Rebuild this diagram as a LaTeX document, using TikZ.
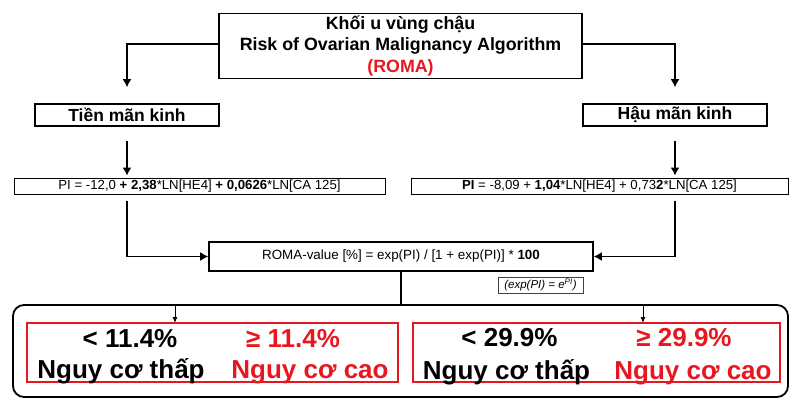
\documentclass[tikz,border=0pt]{standalone}
\usepackage{fontspec}
\setmainfont{Liberation Sans}
\usepackage{tikz}
\usetikzlibrary{arrows,arrows.meta,calc}
\definecolor{romared}{RGB}{232,22,30}

\begin{document}
\begin{tikzpicture}[x=1pt,y=-1pt,>={Latex[length=8pt,width=9pt]},
  box/.style={draw,line width=1.6pt,inner sep=0pt,align=center},
  thinbox/.style={draw,line width=0.9pt,inner sep=0pt},
  conn/.style={->,line width=1.4pt},
  big/.style={font=\fontsize{26}{30}\selectfont\bfseries,anchor=base,inner sep=0pt}]
\useasboundingbox (0,0) rectangle (800,406);

% header and the two groups
\node[box,minimum width=363pt,minimum height=65pt,font=\fontsize{17.8}{21.5}\selectfont\bfseries] (top) at (400.5,46)
  {Khối u vùng chậu\\Risk of Ovarian Malignancy Algorithm\\\textcolor{romared}{(ROMA)}};
\node[box,minimum width=184pt,minimum height=22pt,font=\fontsize{17.5}{21}\selectfont\bfseries] (pre) at (127,115) {Tiền mãn kinh};
\node[box,minimum width=184pt,minimum height=22pt,font=\fontsize{17.5}{21}\selectfont\bfseries] (post) at (675,115) {Hậu mãn kinh};

% formulas
\node[thinbox,minimum width=371pt,minimum height=16pt,font=\fontsize{13.2}{15}\selectfont] (piL) at (199.5,186)
  {PI = -12,0 \textbf{+ 2,38}*LN[HE4] \textbf{+ 0,0626}*LN[CA 125]};
\node[thinbox,minimum width=377pt,minimum height=16pt,font=\fontsize{13.2}{15}\selectfont] (piR) at (599.5,186)
  {\textbf{PI} = -8,09 + \textbf{1,04}*LN[HE4] + 0,73\textbf{2}*LN[CA 125]};
\node[box,minimum width=384pt,minimum height=29pt,font=\fontsize{13.4}{15}\selectfont] (roma) at (401,256.5)
  {ROMA-value [\%] = exp(PI) / [1 + exp(PI)] * \textbf{100}};
\node[thinbox,draw=black!75,minimum width=85pt,minimum height=16pt,font=\fontsize{11.5}{13}\selectfont\itshape] (exp) at (540.5,285)
  {(exp(PI) = e\textsuperscript{PI})};

% result frame
\node[draw,line width=1.8pt,rounded corners=11pt,minimum width=775pt,minimum height=92pt,inner sep=0pt] (out) at (400.5,351) {};
\node[draw=romared,line width=1.1pt,minimum width=371pt,minimum height=59pt,inner sep=0pt] (redL) at (212.5,352.5) {};
\node[draw=romared,line width=1.1pt,minimum width=367pt,minimum height=59pt,inner sep=0pt] (redR) at (596.5,352.5) {};

\node[big] (lowL) at (130,347) {< 11.4\%};
\node[big,text=romared] (highL) at (293,347) {≥ 11.4\%};
\node[big] (lowLtxt) at (121,378) {Nguy cơ thấp};
\node[big,text=romared] (highLtxt) at (310,378) {Nguy cơ cao};
\node[big] (lowR) at (509.5,346) {< 29.9\%};
\node[big,text=romared] (highR) at (684,346) {≥ 29.9\%};
\node[big] (lowRtxt) at (506.5,379) {Nguy cơ thấp};
\node[big,text=romared] (highRtxt) at (693,379) {Nguy cơ cao};

% connectors
\draw[conn] ([yshift=2pt]top.west) -| ([yshift=16pt]pre.north);
\draw[conn] ([yshift=2pt]top.east) -| ([yshift=16pt]post.north);
\draw[conn,shorten <=14pt,shorten >=2pt] (pre.south) -- (pre.south |- piL.north);
\draw[conn,shorten <=14pt,shorten >=2pt] (post.south) -- (post.south |- piR.north);
\draw[conn,shorten <=7pt] (pre.south |- piL.south) |- (roma.west);
\draw[conn,shorten <=7pt] (post.south |- piR.south) |- (roma.east);
\draw[line width=1.4pt] (roma.south) -- (roma.south |- out.north);
\coordinate (inL) at (175,323);
\coordinate (inR) at (643,323);
\draw[-{Latex[length=6pt,width=5pt]},line width=1pt] (inL |- out.north) -- (inL);
\draw[-{Latex[length=6pt,width=5pt]},line width=1pt] (inR |- out.north) -- (inR);
\end{tikzpicture}
\end{document}
